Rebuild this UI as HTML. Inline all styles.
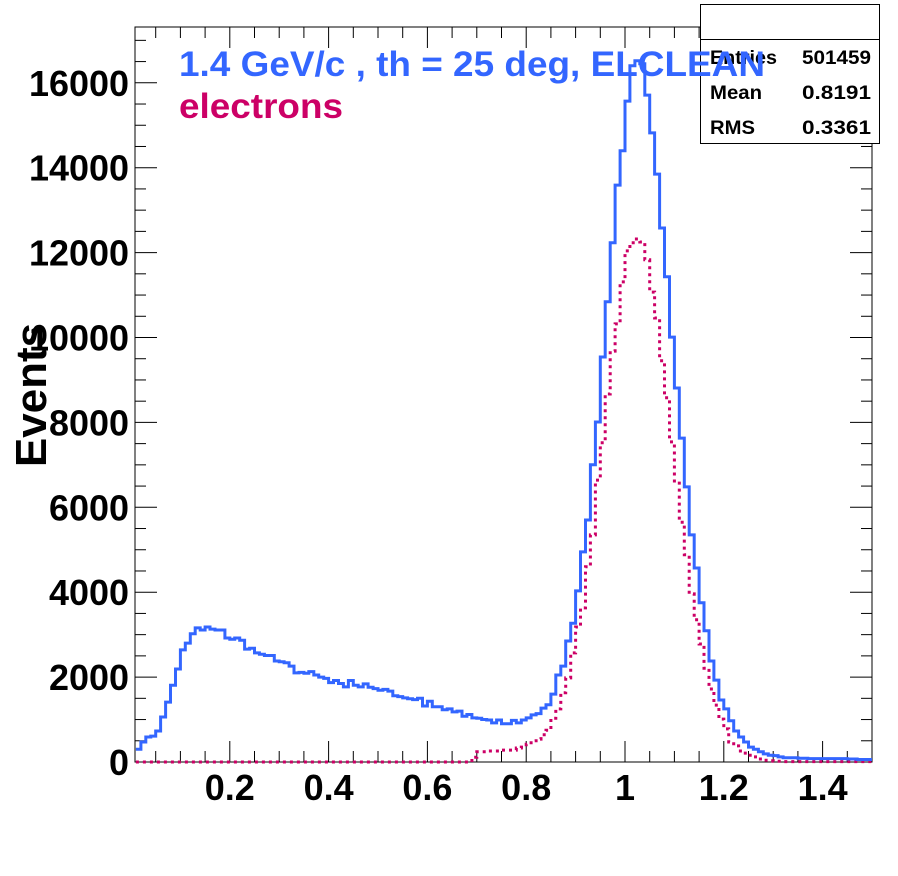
<!DOCTYPE html>
<html><head><meta charset="utf-8"><style>
html,body{margin:0;padding:0;background:#fff;}
svg{display:block;font-family:"Liberation Sans",Arial,sans-serif;}
</style></head><body>
<svg id="c" width="898" height="876" viewBox="0 0 898 876"></svg>
<script>
const xMin = 0.01, xMax = 1.5, binWidth = 0.01;
const yTicks = [0,2000,4000,6000,8000,10000,12000,14000,16000];
const xTickLabels = ["0.2","0.4","0.6","0.8","1","1.2","1.4"];
const xTickValues = [0.2,0.4,0.6,0.8,1.0,1.2,1.4];
const allCounts = [300,470,590,610,730,1060,1410,1810,2190,2640,2800,3020,3160,3110,3180,3130,3110,3110,2920,2890,2920,2870,2660,2680,2570,2540,2510,2510,2380,2360,2340,2260,2100,2110,2090,2130,2050,2000,1970,1870,1920,1850,1770,1920,1810,1770,1840,1760,1730,1690,1710,1670,1560,1540,1510,1490,1470,1500,1320,1430,
1300,1300,1230,1250,1180,1200,1080,1120,1040,1030,1000,990,920,990,900,900,980,920,990,1040,1110,1140,1270,1350,1600,2050,2260,2850,3270,4030,4950,5700,
7000,8010,9540,10840,12230,13590,14400,15570,16400,16520,16450,15710,14820,13850,12580,11430,10010,8810,7630,6480,
5350,4570,3750,3090,2380,1930,1460,1250,970,730,590,470,350,300,240,190,160,150,120,100,100,100,90,90,80,80,80,80,80,80,80,80,70,70,60,60,60];
const electronCounts = [0,0,0,0,0,0,0,0,0,0,0,0,0,0,0,0,0,0,0,0,0,0,0,0,0,0,0,0,0,0,0,0,0,0,0,0,0,0,0,0,0,0,0,0,0,0,0,0,0,0,0,0,0,0,0,0,0,0,0,0,0,0,0,0,0,0,0,0,
110,240,240,260,260,260,280,280,280,330,350,420,500,540,640,750,1030,1250,1630,1980,2570,3180,3630,4600,5350,
6640,7520,8670,9680,10320,11310,12040,12230,12320,12250,11830,11070,10460,9450,8580,7540,6570,
5650,4880,3960,3350,2780,2210,1720,1340,1010,780,470,380,260,210,160,120,70,40,30,20,20,10,10,10,10,10,10,10,10,10,10,10,10,10,10,10,10,10,10];

const L=135,R=872,T=27,B=762;
const px = x => 131 + 494*x;
const py = v => B - v*(84.9/2000);
const NS="http://www.w3.org/2000/svg";
const svg=document.getElementById('c');
function mk(tag,attrs,parent){const e=document.createElementNS(NS,tag);for(const k in attrs)e.setAttribute(k,attrs[k]);(parent||svg).appendChild(e);return e;}

const frame=mk('rect',{x:L,y:T,width:R-L,height:B-T,fill:'none',stroke:'#000','stroke-width':1});



for(let v=0;v<=17000;v+=500){
  const y=py(v); if(y<T) break;
  const len=(v%2000===0)?22:11;
  const t1=mk('line',{x1:L,x2:L+len,y1:y,y2:y,stroke:'#000','stroke-width':1});
  
  
  const t2=mk('line',{x1:R,x2:R-len,y1:y,y2:y,stroke:'#000','stroke-width':1});
  
  
}
yTicks.forEach(v=>{
  const s=String(v);
  const t=mk('text',{x:129,y:py(v)+13,'text-anchor':'end','font-size':36,'font-weight':'bold',fill:'#000',textLength:s.length*20,lengthAdjust:'spacingAndGlyphs'});
  t.textContent=s;
  
  
});
for(let i=1;i<=30;i++){
  const x=i*0.05, X=px(x); if(X>R+0.5||X<L) continue;
  const len=(i%4===0)?21:11;
  const t1=mk('line',{x1:X,x2:X,y1:B,y2:B-len,stroke:'#000','stroke-width':1});
  
  
  const t2=mk('line',{x1:X,x2:X,y1:T,y2:T+len,stroke:'#000','stroke-width':1});
  
  
}
xTickValues.forEach((v,i)=>{
  const t=mk('text',{x:px(v),y:800,'text-anchor':'middle','font-size':36,'font-weight':'bold',fill:'#000'});
  t.textContent=xTickLabels[i];
  
  
});
const yt=mk('text',{x:0,y:0,transform:'translate(46,395) rotate(-90)','text-anchor':'middle','font-size':44,'font-weight':'bold',fill:'#000'});
yt.textContent='Events';



function stepPath(arr){
  let d='';
  arr.forEach((v,i)=>{
    const x0=xMin+i*binWidth, x1=Math.min(x0+binWidth,xMax);
    const X0=Math.max(px(x0),L), X1=Math.min(px(x1),R), Y=py(v);
    d+=(i===0?'M':'L')+X0.toFixed(1)+','+Y.toFixed(1)+'L'+X1.toFixed(1)+','+Y.toFixed(1);
  });
  return d;
}
const redPath=mk('path',{d:stepPath(electronCounts),fill:'none',stroke:'#cc0066','stroke-width':3,'stroke-dasharray':'3,4'});


const bluePath=mk('path',{d:stepPath(allCounts),fill:'none',stroke:'#3366ff','stroke-width':3});



const sb=mk('g',{});


mk('rect',{x:700.5,y:4.5,width:179,height:139,fill:'#fff',stroke:'#000','stroke-width':1},sb);
mk('line',{x1:700,x2:880,y1:39.5,y2:39.5,stroke:'#000','stroke-width':1},sb);
[['Entries','501459',64,67],['Mean','0.8191',99,52],['RMS','0.3361',134,45]].forEach(r=>{
  const a=mk('text',{x:710,y:r[2],'font-size':19,'font-weight':'bold',fill:'#000',textLength:r[3],lengthAdjust:'spacingAndGlyphs'},sb);a.textContent=r[0];
  
  
  const b=mk('text',{x:871,y:r[2],'text-anchor':'end','font-size':19,'font-weight':'bold',fill:'#000',textLength:r[1].length*11.5,lengthAdjust:'spacingAndGlyphs'},sb);b.textContent=r[1];
  
  
});
const t1=mk('text',{x:179,y:76,'font-size':35,'font-weight':'bold',fill:'#3366ff',textLength:586,lengthAdjust:'spacingAndGlyphs'});
t1.textContent='1.4 GeV/c , th = 25 deg, ELCLEAN';


const t2=mk('text',{x:179,y:118,'font-size':35,'font-weight':'bold',fill:'#cc0066',textLength:164,lengthAdjust:'spacingAndGlyphs'});
t2.textContent='electrons';


</script>
</body></html>
